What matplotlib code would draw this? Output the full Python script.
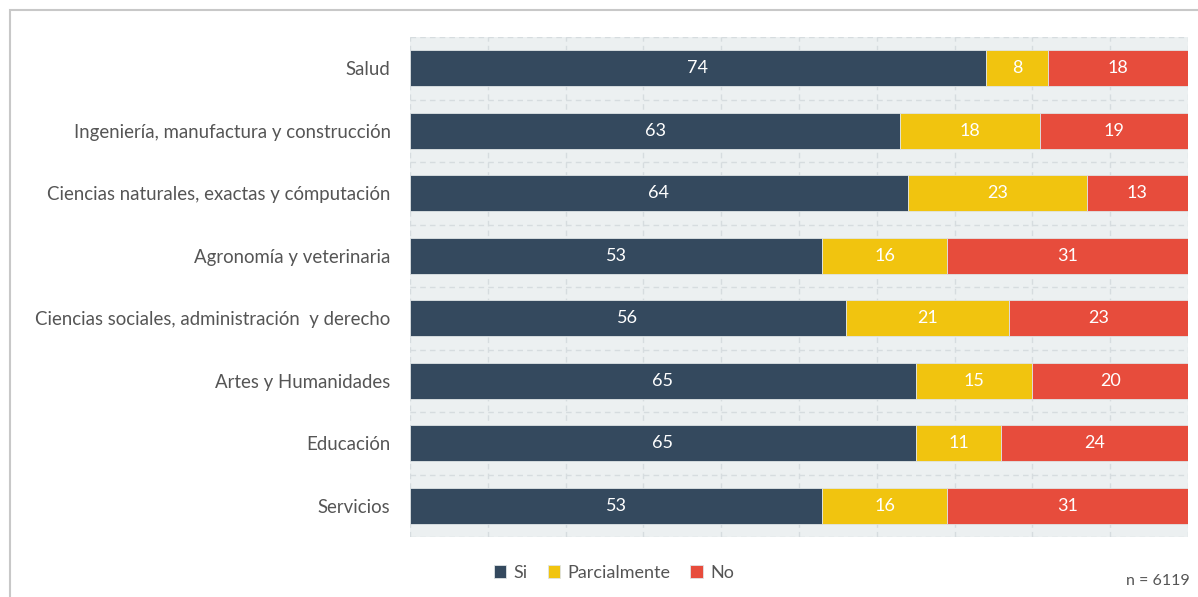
import matplotlib.pyplot as plt
from matplotlib.patches import Rectangle
import numpy as np

categories = [
    "Salud",
    "Ingeniería, manufactura y construcción",
    "Ciencias naturales, exactas y cómputación",
    "Agronomía y veterinaria",
    "Ciencias sociales, administración  y derecho",
    "Artes y Humanidades",
    "Educación",
    "Servicios",
]
si = [74, 63, 64, 53, 56, 65, 65, 53]
parcialmente = [8, 18, 23, 16, 21, 15, 11, 16]
no = [18, 19, 13, 31, 23, 20, 24, 31]
series_names = ["Si", "Parcialmente", "No"]
colors = ["#34495e", "#f1c40f", "#e74c3c"]
note = "n = 6119"

plt.rcParams["font.family"] = ["Lato", "DejaVu Sans"]

fig = plt.figure(figsize=(11.98, 5.97), dpi=100)
ax = fig.add_axes([410 / 1198, 1 - 537 / 597, 778 / 1198, 500 / 597])

# outer frame
fig.patches.append(Rectangle((10 / 1198, -0.1), 1.2, 1 - 10 / 597 + 0.1,
                             transform=fig.transFigure, fill=False,
                             edgecolor="#c8c8c8", linewidth=1.5))

y = np.arange(len(categories))
left = np.zeros(len(categories))
for vals, name, col in zip([si, parcialmente, no], series_names, colors):
    vals = np.array(vals, dtype=float)
    bars = ax.barh(y, vals, left=left, height=0.58, color=col, label=name,
                   edgecolor="#dfe4e6", linewidth=0.6, zorder=3)
    for b, v, l in zip(bars, vals, left):
        ax.text(l + v / 2, b.get_y() + b.get_height() / 2, f"{int(v)}",
                ha="center", va="center", color="white", fontsize=13, zorder=4)
    left += vals

ax.set_xlim(0, 100)
ax.set_ylim(len(categories) - 0.5, -0.5)
ax.set_facecolor("#ecf0f1")
ax.set_xticks(np.arange(0, 101, 10))
ax.set_xticklabels([])
ax.set_yticks(y)
ax.set_yticklabels(categories, fontsize=13.4, color="#555555")
ax.set_yticks(np.arange(-0.5, len(categories), 1), minor=True)
ax.tick_params(axis="both", which="both", length=0)
ax.tick_params(axis="y", pad=14)
ax.grid(True, axis="x", which="major", linestyle=(0, (4, 3)), color="#d6dcdf", linewidth=1, zorder=0)
ax.grid(True, axis="y", which="minor", linestyle=(0, (4, 3)), color="#d6dcdf", linewidth=1, zorder=0)
ax.grid(False, axis="y", which="major")
for s in ax.spines.values():
    s.set_visible(False)

fig.legend(loc="center", bbox_to_anchor=(614 / 1198, 1 - 573 / 597), ncol=3,
           frameon=False, fontsize=13, handlelength=0.7, handleheight=0.7,
           handletextpad=0.4, columnspacing=1.1, labelcolor="#555555")
fig.text(1190 / 1198, 1 - 581 / 597, note, ha="right", va="center",
         fontsize=11.5, color="#555555")

fig.savefig("out.png", dpi=100)
